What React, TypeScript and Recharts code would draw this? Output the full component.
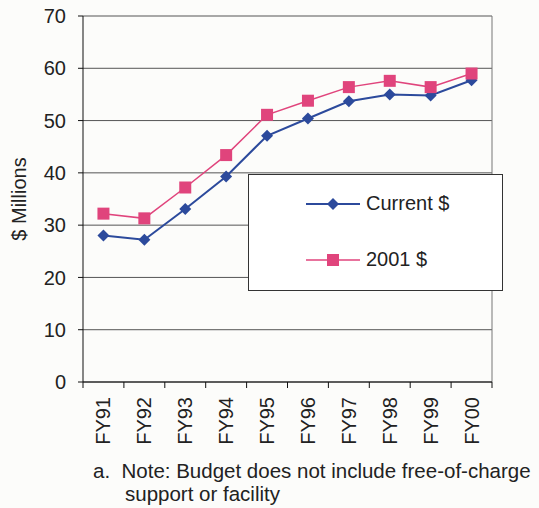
import { ComposedChart, Line, XAxis, YAxis, CartesianGrid, Legend, ReferenceLine } from 'recharts';

const YEARS = ['FY91', 'FY92', 'FY93', 'FY94', 'FY95', 'FY96', 'FY97', 'FY98', 'FY99', 'FY00'];
const CURRENT = [28.0, 27.2, 33.1, 39.3, 47.1, 50.4, 53.7, 55.0, 54.8, 57.7];
const CONSTANT_2001 = [32.2, 31.3, 37.2, 43.4, 51.1, 53.8, 56.4, 57.6, 56.4, 59.0];
const Y_TICKS = [0, 10, 20, 30, 40, 50, 60, 70];

const BLUE = '#2c4a9c';
const PINK = '#e0447c';
const FONT = '"Liberation Sans", Arial, sans-serif';

const data = YEARS.map((year, i) => ({ year, current: CURRENT[i], constant: CONSTANT_2001[i] }));

const Diamond = ({ cx, cy, size = 6, color = BLUE }: any) =>
  cx == null ? null : (
    <path d={`M${cx},${cy - size}L${cx + size},${cy}L${cx},${cy + size}L${cx - size},${cy}Z`} fill={color} />
  );

const Square = ({ cx, cy, size = 6, color = PINK }: any) =>
  cx == null ? null : <rect x={cx - size} y={cy - size} width={size * 2} height={size * 2} fill={color} />;

// rotated year label, plus tick marks on the band edges instead of the band centre
const YearTick = ({ x, y, payload, index, visibleTicksCount }: any) => {
  const half = payload.offset ?? 0;
  return (
    <g>
      <line x1={x - half} x2={x - half} y1={y} y2={y + 6} stroke="#111" />
      {index === visibleTicksCount - 1 && <line x1={x + half} x2={x + half} y1={y} y2={y + 6} stroke="#111" />}
      <text
        transform={`translate(${x + 7},${y + 15}) rotate(-90)`}
        textAnchor="end"
        fontSize={20}
        fontFamily={FONT}
        fill="#222"
      >
        {payload.value}
      </text>
    </g>
  );
};

const LegendBox = () => (
  <div
    style={{
      width: 253,
      height: 115,
      border: '1px solid #333',
      background: '#fff',
      fontFamily: FONT,
      fontSize: 20,
      color: '#222',
    }}
  >
    {[
      { label: 'Current $', color: BLUE, marker: <Diamond cx={27} cy={10} size={6} />, width: 2 },
      { label: '2001 $', color: PINK, marker: <Square cx={27} cy={10} size={6} />, width: 1.5 },
    ].map((item, i) => (
      <div key={item.label} style={{ position: 'absolute', left: 58, top: 18 + i * 56, display: 'flex', alignItems: 'center' }}>
        <svg width={56} height={20}>
          <line x1={0} y1={10} x2={54} y2={10} stroke={item.color} strokeWidth={item.width} />
          {item.marker}
        </svg>
        <span style={{ marginLeft: 4 }}>{item.label}</span>
      </div>
    ))}
  </div>
);

export default function App() {
  return (
    <div style={{ position: 'absolute', left: 0, top: 0, width: 539, height: 508, background: '#fcfcfa', overflow: 'hidden' }}>
      <ComposedChart width={539} height={508} data={data} margin={{ top: 16, right: 47, bottom: 0, left: 0 }}>
        <CartesianGrid vertical={false} stroke="#555" strokeWidth={1} />
        <XAxis
          dataKey="year"
          scale="band"
          height={126}
          axisLine={{ stroke: '#111' }}
          tickLine={false}
          tickSize={0}
          tickMargin={0}
          interval={0}
          tick={<YearTick />}
        />
        <YAxis
          domain={[0, 70]}
          ticks={Y_TICKS}
          width={83}
          tickSize={5}
          tickMargin={12}
          stroke="#111"
          tick={{ fontSize: 20, fill: '#222', fontFamily: FONT }}
          label={{
            content: ({ viewBox }: any) => (
              <text
                transform={`translate(26,${viewBox.y + viewBox.height / 2}) rotate(-90)`}
                textAnchor="middle"
                fontSize={20}
                fontFamily={FONT}
                fill="#222"
              >
                $ Millions
              </text>
            ),
          }}
        />
        <ReferenceLine x="FY00" position="end" stroke="#777" />
        <Line dataKey="current" stroke={BLUE} strokeWidth={2} dot={<Diamond />} isAnimationActive={false} />
        <Line dataKey="constant" stroke={PINK} strokeWidth={1.5} dot={<Square />} isAnimationActive={false} />
        <Legend
          layout="vertical"
          align="center"
          verticalAlign="middle"
          content={<LegendBox />}
          wrapperStyle={{ left: 248, top: 174, width: 255, height: 117 }}
        />
      </ComposedChart>
      <div style={{ position: 'absolute', left: 93, top: 459, fontFamily: FONT, fontSize: 20.5, lineHeight: '23px', color: '#222', whiteSpace: 'nowrap' }}>
        <div>a.&nbsp; Note: Budget does not include free-of-charge</div>
        <div style={{ paddingLeft: 32 }}>support or facility</div>
      </div>
    </div>
  );
}
